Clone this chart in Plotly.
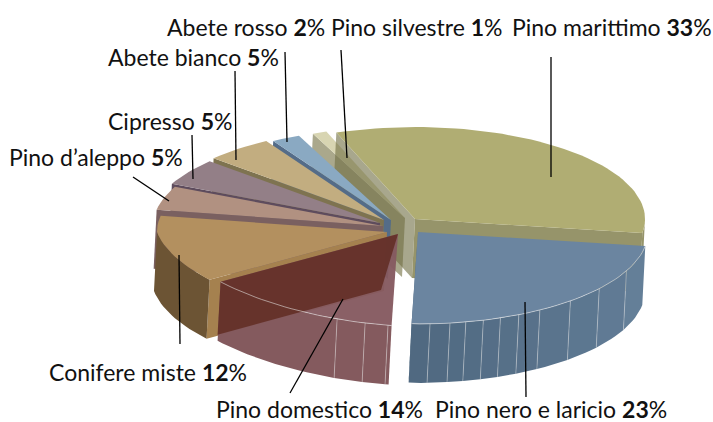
import math
import plotly.graph_objects as go

# ---- data ----
names = ["Pino marittimo", "Pino nero e laricio", "Pino domestico", "Conifere miste",
         "Pino d’aleppo", "Cipresso", "Abete bianco", "Abete rosso", "Pino silvestre"]
values = [33, 23, 14, 12, 5, 5, 5, 2, 1]

# ---- styling / projection of the 3-D pie ----
START = -20
RX, RY = 230, 92
SHIFT = (-3, 59)
apex_x = [415, 418, 398, 387, 383, 380, 384, 391, 405]
apex_y = [219, 232, 234, 232, 226, 223, 220, 220, 218]
boundary_nudge = [0, 0, 0, 4, 5, 2, 1, 0, 0, 0]
top_col = ["#b0ad73", "#6b85a0", "rgba(133,90,96,0.96)", "#b3905f", "#b19181", "#937f87", "#c2ad80", "#8aa9c2", "#d8d5b2"]
face_col = ["rgba(110,108,65,0.6)", "#4f6880", "rgba(100,48,40,0.93)", "#a5814f", "#7a6060", "#5e4c5d", "#7e7350", "#546c88", "#aaa88c"]
wall_a = ["#96946a", "#4f6880", "#845a5e", "#6c5434", "#7a6060", "#5e4c5d", "#7e7350", "#546c88", "#aaa88c"]
wall_b = ["#96946a", "#66819b", "#845a5e", "#6c5434", "#7a6060", "#5e4c5d", "#7e7350", "#546c88", "#aaa88c"]
seams = {1: [177, 172, 168, 163.5, 159, 154, 148, 138.5, 128, 115], 2: [196, 188.4, 182.5]}
draw_order = [8, 7, 6, 5, 4, 3, 0, 1, 2]

labels = [("Abete rosso ", "2", 167, 27), ("Pino silvestre ", "1", 331, 27), ("Pino marittimo ", "33", 512, 27),
          ("Abete bianco ", "5", 108, 57), ("Cipresso ", "5", 108, 121), ("Pino d’aleppo ", "5", 9, 157),
          ("Conifere miste ", "12", 49, 372), ("Pino domestico ", "14", 216, 409),
          ("Pino nero e laricio ", "23", 435, 409)]
leaders = [((235, 71), (236, 160)), ((285, 52), (287, 142)), ((341, 50), (347, 158)), ((551, 57), (551, 177)),
           ((192, 135), (193, 179)), ((133, 177), (169, 201)), ((179, 255), (180, 344)),
           ((343, 299), (290, 393)), ((525, 302), (526, 397))]

# ---- geometry ----
total = sum(values)
angles = []
a = START
for k, v in enumerate(values):
    b = a + 360 * v / total
    angles.append((a + boundary_nudge[k], b + boundary_nudge[k + 1]))
    a = b


def pt(i, deg):
    t = math.radians(deg)
    r = 1.0
    if 180 < deg < 270:
        r = 1 - 0.075 * math.sin(2 * (t - math.pi))
    return apex_x[i] + r * RX * math.sin(t), apex_y[i] - r * RY * math.cos(t)


def arc(i, a0, a1, n=None):
    n = n or max(3, int(abs(a1 - a0) / 2))
    return [pt(i, a0 + (a1 - a0) * k / n) for k in range(n + 1)]


def down(p, s=SHIFT):
    return p[0] + s[0], p[1] + s[1]


def lerp(c0, c1, f):
    p = [int(c0[j:j + 2], 16) for j in (1, 3, 5)]
    q = [int(c1[j:j + 2], 16) for j in (1, 3, 5)]
    return "rgb(%d,%d,%d)" % tuple(round(x + (y - x) * f) for x, y in zip(p, q))


fig = go.Figure()


def poly(points, color):
    xs = [p[0] for p in points] + [points[0][0]]
    ys = [p[1] for p in points] + [points[0][1]]
    fig.add_trace(go.Scatter(x=xs, y=ys, mode="lines", fill="toself", fillcolor=color,
                             line=dict(width=0), hoverinfo="skip", showlegend=False))


def stroke(points, color, width=1):
    fig.add_trace(go.Scatter(x=[p[0] for p in points], y=[p[1] for p in points], mode="lines",
                             line=dict(color=color, width=width), hoverinfo="skip", showlegend=False))


def radial_face(i, deg, color, apex_shift=SHIFT, outer_shift=SHIFT):
    ap = (apex_x[i], apex_y[i])
    o = pt(i, deg)
    poly([ap, o, down(o, outer_shift), down(ap, apex_shift)], color)


def outer_wall(i):
    a0, a1 = angles[i]
    lo, hi = max(a0, 90), min(a1, 270)
    if lo >= hi:
        return
    cuts = sorted([lo, hi] + [s for s in seams.get(i, []) if lo < s < hi])
    for c0, c1 in zip(cuts, cuts[1:]):
        f = ((c0 + c1) / 2 - lo) / (hi - lo)
        col = lerp(wall_b[i], wall_a[i], f) if i == 1 else wall_a[i]
        top = arc(i, c0, c1)
        poly(top + [down(p) for p in reversed(top)], col)


for i in draw_order:
    a0, a1 = angles[i]
    if i == 0:
        radial_face(i, a1, "#96946a")
    elif i == 1:
        radial_face(i, a1, face_col[i])
    elif i != 2:
        radial_face(i, a0, face_col[i])
    outer_wall(i)
    poly([(apex_x[i], apex_y[i])] + arc(i, a0, a1), top_col[i])
    if i == 8:
        # the left face of the largest slice sits behind the narrow slices, over this one
        radial_face(0, angles[0][0], face_col[0])
    if i == 2:
        radial_face(i, a1, face_col[i], apex_shift=(-17, 56), outer_shift=(-3, 53))
    if i in (1, 2):
        for s in seams[i]:
            p = pt(i, s)
            stroke([p, down(p)], "rgba(225,225,225,0.4)", 1)
        stroke(arc(i, a0, a1), "rgba(235,235,235,0.55)", 1)

for p, q in leaders:
    stroke([p, q], "#000000", 1.3)

for name, num, x, y in labels:
    fig.add_annotation(x=x, y=y, xref="x", yref="y", xanchor="left", yanchor="middle", showarrow=False,
                       text=f"{name}<b>{num}</b>%", xshift=-2,
                       font=dict(family="Lato, sans-serif", size=23, color="#111111"))

fig.update_layout(width=713, height=422, margin=dict(l=0, r=0, t=0, b=0), paper_bgcolor="white",
                  plot_bgcolor="white", showlegend=False,
                  xaxis=dict(range=[0, 713], visible=False, fixedrange=True),
                  yaxis=dict(range=[422, 0], visible=False, fixedrange=True))
fig.write_html("out.html", config={"displayModeBar": False},
               post_script="document.body.style.margin='0';document.body.style.overflow='hidden';window.dispatchEvent(new Event('resize'));")
